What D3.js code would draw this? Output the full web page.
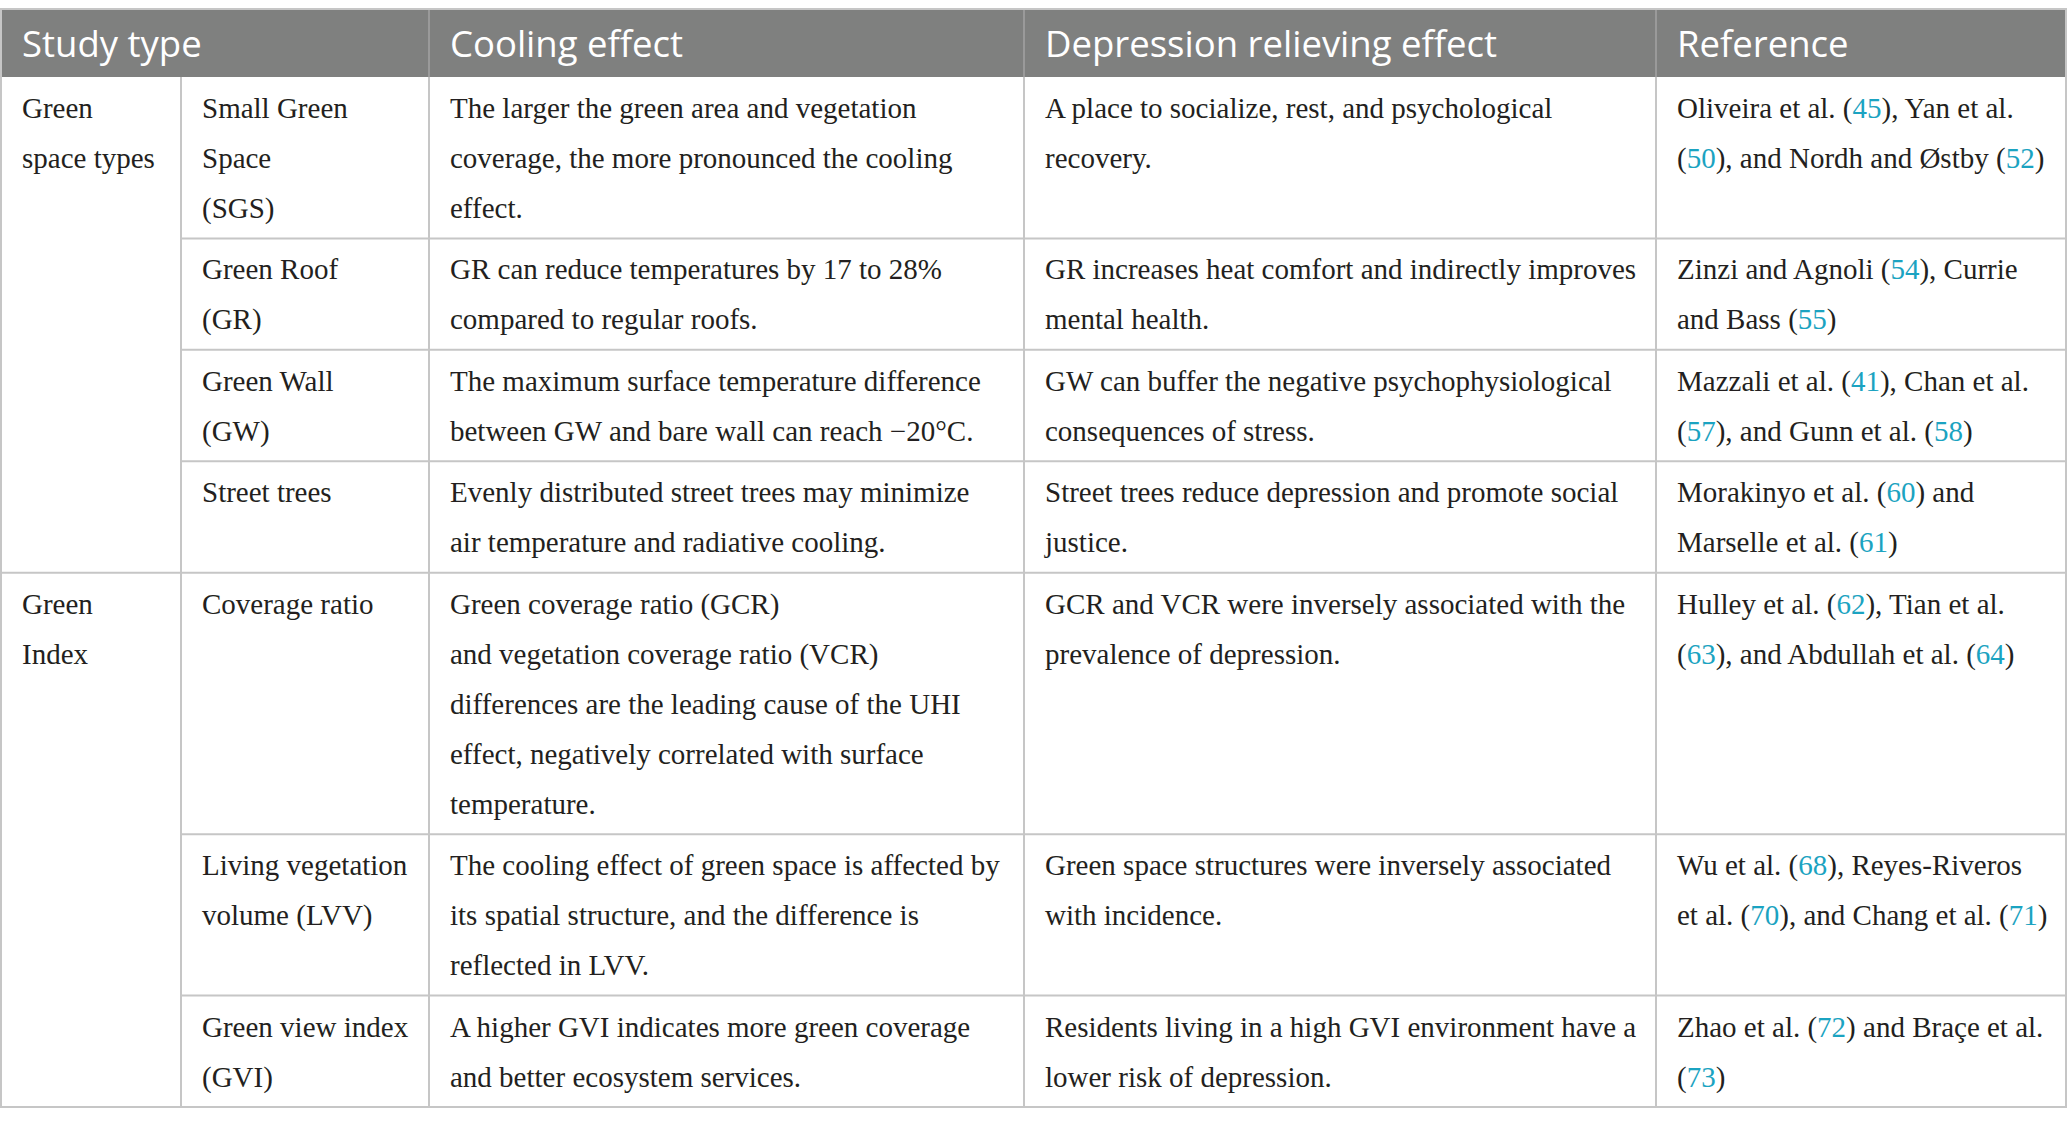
<!DOCTYPE html>
<html lang="en">
<head>
    <meta charset="UTF-8">
    <title>Green space cooling and depression table</title>
    <script src="https://d3js.org/d3.v7.min.js"></script>
    <style>
        body { margin: 0; background: #ffffff; }
        svg { display: block; }
        .head { font-family: "Open Sans", "Noto Sans", sans-serif; font-size: 36.5px; fill: #ffffff; }
        .cell { font-family: "Liberation Serif", "DejaVu Serif", serif; font-size: 29px; fill: #231f20; }
        .refnum { fill: #1ba3c1; }
    </style>
</head>
<body>
<div id="chart"></div>
<script>
// table content
const headers = ["Study type", "Cooling effect", "Depression relieving effect", "Reference"];

const groups = [
    {label: ["Green", "space types"], rows: 4},
    {label: ["Green", "Index"], rows: 3}
];

const subtypes = [
    ["Small Green", "Space", "(SGS)"],
    ["Green Roof", "(GR)"],
    ["Green Wall", "(GW)"],
    ["Street trees"],
    ["Coverage ratio"],
    ["Living vegetation", "volume (LVV)"],
    ["Green view index", "(GVI)"]
];

const cooling = [
    ["The larger the green area and vegetation", "coverage, the more pronounced the cooling", "effect."],
    ["GR can reduce temperatures by 17 to 28%", "compared to regular roofs."],
    ["The maximum surface temperature difference", "between GW and bare wall can reach \u221220\u00b0C."],
    ["Evenly distributed street trees may minimize", "air temperature and radiative cooling."],
    ["Green coverage ratio (GCR)", "and vegetation coverage ratio (VCR)", "differences are the leading cause of the UHI", "effect, negatively correlated with surface", "temperature."],
    ["The cooling effect of green space is affected by", "its spatial structure, and the difference is", "reflected in LVV."],
    ["A higher GVI indicates more green coverage", "and better ecosystem services."]
];

const depression = [
    ["A place to socialize, rest, and psychological", "recovery."],
    ["GR increases heat comfort and indirectly improves", "mental health."],
    ["GW can buffer the negative psychophysiological", "consequences of stress."],
    ["Street trees reduce depression and promote social", "justice."],
    ["GCR and VCR were inversely associated with the", "prevalence of depression."],
    ["Green space structures were inversely associated", "with incidence."],
    ["Residents living in a high GVI environment have a", "lower risk of depression."]
];

const references = [
    ["Oliveira et al. (45), Yan et al.", "(50), and Nordh and \u00d8stby (52)"],
    ["Zinzi and Agnoli (54), Currie", "and Bass (55)"],
    ["Mazzali et al. (41), Chan et al.", "(57), and Gunn et al. (58)"],
    ["Morakinyo et al. (60) and", "Marselle et al. (61)"],
    ["Hulley et al. (62), Tian et al.", "(63), and Abdullah et al. (64)"],
    ["Wu et al. (68), Reyes-Riveros", "et al. (70), and Chang et al. (71)"],
    ["Zhao et al. (72) and Bra\u00e7e et al.", "(73)"]
];

// layout
const W = 2067, H = 1121;
const colEdges = [1, 181, 429, 1024, 1656, 2066];
const headTop = 9, headBottom = 77, tableBottom = 1107;
const pad = 21;
const lineH = 50, firstBase = 41;
const rowPad = 0.23; // extra line units per row

const nRows = subtypes.length;
const lineCounts = d3.range(nRows).map(i =>
    d3.max([subtypes[i], cooling[i], depression[i], references[i]], a => a.length));
const cum = [0];
lineCounts.forEach(n => cum.push(cum[cum.length - 1] + n + rowPad));

const y = d3.scaleLinear().domain([0, cum[cum.length - 1]]).range([headBottom, tableBottom]);
const x = d3.scaleOrdinal().domain(d3.range(colEdges.length)).range(colEdges);

const svg = d3.select("#chart").append("svg")
    .attr("width", W)
    .attr("height", H);

const lineColor = "#c6c6c6";

// header band
svg.append("rect")
    .attr("x", x(0)).attr("y", headTop)
    .attr("width", x(5) - x(0)).attr("height", headBottom - headTop)
    .attr("fill", "#7f807f");

const headCols = [0, 2, 3, 4];
svg.selectAll(".head")
    .data(headers)
    .join("text")
    .attr("class", "head")
    .attr("x", (d, i) => x(headCols[i]) + pad)
    .attr("y", 57)
    .text(d => d);

// header separators
svg.selectAll(".hsep")
    .data([2, 3, 4])
    .join("line")
    .attr("class", "hsep")
    .attr("x1", d => x(d)).attr("x2", d => x(d))
    .attr("y1", headTop).attr("y2", headBottom)
    .attr("stroke", "#a3a3a3").attr("stroke-width", 1.5);

// outer border
svg.append("rect")
    .attr("x", x(0)).attr("y", headTop)
    .attr("width", x(5) - x(0)).attr("height", tableBottom - headTop)
    .attr("fill", "none")
    .attr("stroke", lineColor).attr("stroke-width", 2);

// vertical lines in body
svg.selectAll(".vline")
    .data([1, 2, 3, 4])
    .join("line")
    .attr("class", "vline")
    .attr("x1", d => x(d)).attr("x2", d => x(d))
    .attr("y1", headBottom).attr("y2", tableBottom)
    .attr("stroke", lineColor).attr("stroke-width", 2);

// horizontal row lines (group boundaries span full width)
const groupEnds = [];
groups.reduce((acc, g) => { groupEnds.push(acc + g.rows); return acc + g.rows; }, 0);
svg.selectAll(".hline")
    .data(d3.range(1, nRows))
    .join("line")
    .attr("class", "hline")
    .attr("x1", d => groupEnds.includes(d) ? x(0) : x(1))
    .attr("x2", x(5))
    .attr("y1", d => y(cum[d])).attr("y2", d => y(cum[d]))
    .attr("stroke", lineColor).attr("stroke-width", 2);

// write lines of text in a cell
function cellText(lines, col, rowStart, withRefs) {
    const t0 = y(cum[rowStart]);
    lines.forEach((ln, k) => {
        const t = svg.append("text")
            .attr("class", "cell")
            .attr("x", x(col) + pad)
            .attr("y", t0 + firstBase + k * lineH);
        if (withRefs) {
            ln.split(/(\d+)/).forEach((part, j) => {
                if (!part) return;
                t.append("tspan")
                    .attr("class", j % 2 ? "refnum" : null)
                    .text(part);
            });
        } else {
            t.text(ln);
        }
    });
}

let start = 0;
groups.forEach(g => {
    cellText(g.label, 0, start, false);
    start += g.rows;
});
for (let i = 0; i < nRows; i++) {
    cellText(subtypes[i], 1, i, false);
    cellText(cooling[i], 2, i, false);
    cellText(depression[i], 3, i, false);
    cellText(references[i], 4, i, true);
}
</script>
</body>
</html>
